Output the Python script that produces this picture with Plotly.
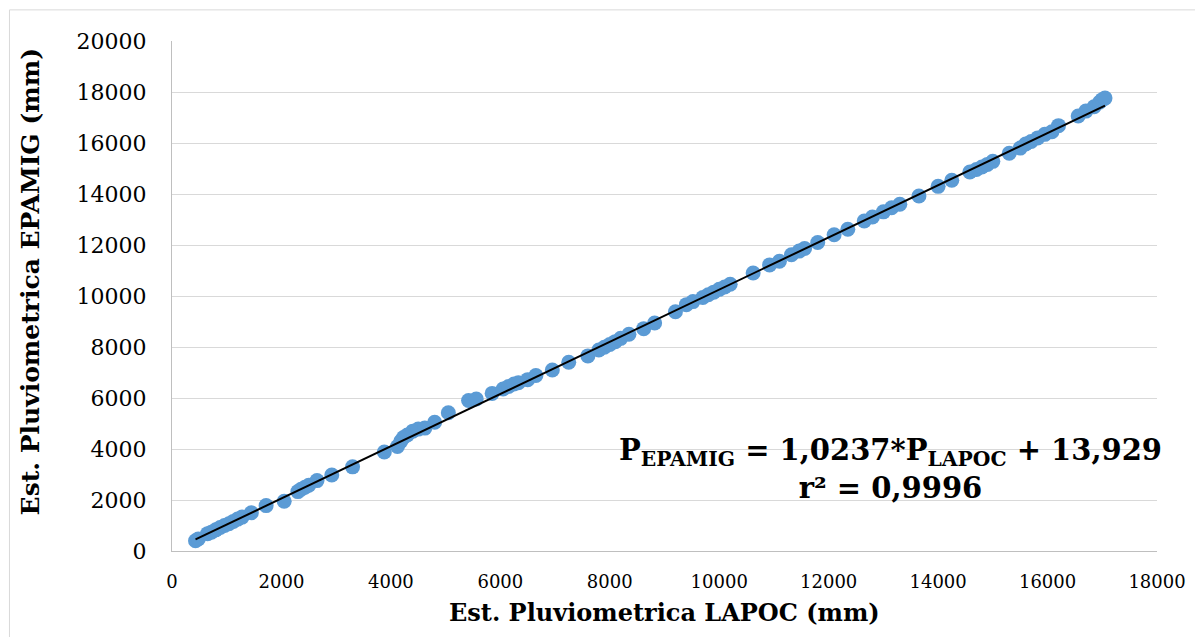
import plotly.graph_objects as go

# Data (mm)
lapoc = [430, 480, 650, 720, 800, 880, 960, 1040, 1120, 1200, 1280, 1450, 1720, 2050,
         2300, 2360, 2430, 2500, 2650, 2920, 3300, 3880, 4120, 4180, 4230, 4300, 4400,
         4500, 4620, 4800, 5050, 5420, 5560, 5850, 6050, 6150, 6250, 6330, 6500, 6650,
         6950, 7250, 7600, 7800, 7900, 8000, 8100, 8200, 8350, 8620, 8820, 9200, 9400,
         9520, 9700, 9800, 9900, 10000, 10100, 10200, 10620, 10920, 11100, 11320, 11460,
         11560, 11800, 12100, 12350, 12650, 12800, 13000, 13150, 13300, 13650, 14000,
         14250, 14580, 14700, 14800, 14900, 15000, 15300, 15500, 15600, 15700, 15820,
         15950, 16080, 16200, 16560, 16700, 16850, 16950, 17000, 17050]
epamig = [400, 470, 680, 740, 830, 920, 1000, 1070, 1160, 1250, 1330, 1500, 1780, 1950,
          2330, 2420, 2500, 2580, 2760, 2980, 3300, 3880, 4100, 4300, 4450, 4550, 4700,
          4780, 4820, 5050, 5420, 5900, 5960, 6180, 6350, 6450, 6550, 6600, 6720, 6880,
          7100, 7400, 7650, 7880, 7990, 8100, 8210, 8340, 8500, 8720, 8940, 9380, 9660,
          9780, 9940, 10050, 10150, 10260, 10350, 10460, 10900, 11220, 11360, 11620, 11760,
          11860, 12100, 12400, 12620, 12940, 13100, 13300, 13460, 13600, 13920, 14300,
          14540, 14860, 14960, 15060, 15160, 15280, 15600, 15800, 15960, 16060, 16200,
          16340, 16440, 16680, 17060, 17250, 17420, 17600, 17700, 17760]

slope = 1.0237
intercept = 13.929
x_ticks = list(range(0, 18001, 2000))
y_ticks = list(range(0, 20001, 2000))

trend_x = [min(lapoc), max(lapoc)]
trend_y = [slope * v + intercept for v in trend_x]

fig = go.Figure()
fig.add_trace(go.Scatter(x=lapoc, y=epamig, mode="markers",
                         marker=dict(color="#5b9bd5", size=15, line=dict(width=0)),
                         showlegend=False))
fig.add_trace(go.Scatter(x=trend_x, y=trend_y, mode="lines",
                         line=dict(color="black", width=2), showlegend=False))

fig.update_layout(
    width=1203, height=637,
    margin=dict(l=164, r=54, t=33, b=94),
    paper_bgcolor="white", plot_bgcolor="white",
    xaxis=dict(range=[0, 18000], tickvals=x_ticks, ticktext=[str(v) for v in x_ticks],
               showgrid=False, zeroline=False, showline=True, linecolor="#bfbfbf",
               linewidth=1, ticks="", ticklabelstandoff=14,
               tickfont=dict(family="DejaVu Serif", size=18, color="#000")),
    yaxis=dict(range=[0, 20000], tickvals=y_ticks, ticktext=[str(v) for v in y_ticks],
               showgrid=True, gridcolor="#d9d9d9", gridwidth=1, zeroline=False,
               showline=True, linecolor="#bfbfbf", linewidth=1, ticks="",
               ticklabelstandoff=20,
               tickfont=dict(family="DejaVu Serif", size=22, color="#000")),
    shapes=[dict(type="rect", xref="paper", yref="paper", x0=-0.165, x1=1.054, y0=-0.182, y1=1.061,
                 line=dict(color="#d9d9d9", width=1))],
    annotations=[
        dict(xref="paper", yref="paper", x=0.729, y=0.161, xanchor="center", yanchor="middle",
             text="<b>P<sub>EPAMIG</sub> = 1,0237*P<sub>LAPOC</sub> + 13,929<br>r² = 0,9996</b>",
             showarrow=False, align="center",
             font=dict(family="DejaVu Serif", size=29, color="#000")),
        dict(xref="paper", yref="paper", x=0.4995, y=-0.12, xanchor="center", yanchor="middle",
             text="<b>Est. Pluviometrica LAPOC (mm)</b>", showarrow=False,
             font=dict(family="DejaVu Serif", size=24, color="#000")),
        dict(xref="paper", yref="paper", x=-0.144, y=0.527, xanchor="center", yanchor="middle",
             text="<b>Est. Pluviometrica EPAMIG (mm)</b>", showarrow=False, textangle=-90,
             font=dict(family="DejaVu Serif", size=25, color="#000")),
    ],
)

fig.write_html("out.html")
